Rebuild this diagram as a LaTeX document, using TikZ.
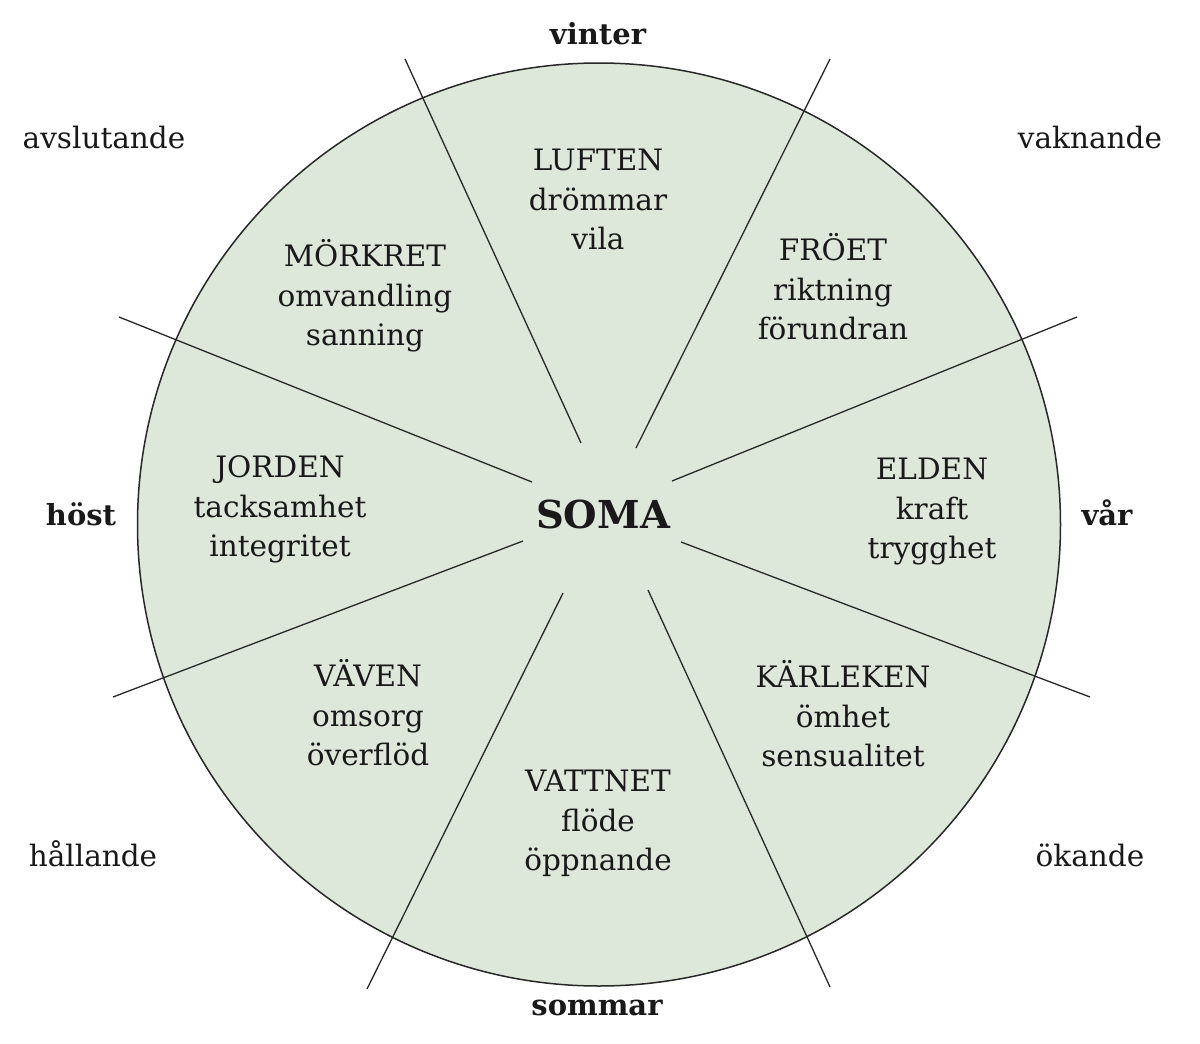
\documentclass[tikz,border=0pt]{standalone}
\usepackage{fontspec}
\setmainfont{DejaVu Serif}
\definecolor{somafill}{RGB}{221,232,218}
\definecolor{inkline}{RGB}{40,40,40}
\definecolor{inktext}{RGB}{25,25,25}
\begin{document}
\begin{tikzpicture}[x=1pt,y=-1pt,
  ray/.style={draw=inkline,line width=1.3pt},
  lbl/.style={inner sep=0pt,text=inktext,align=center,font=\fontsize{29.5}{39.5}\selectfont},
  season/.style={inner sep=0pt,text=inktext,align=center,font=\fontsize{29}{39.5}\selectfont\bfseries},
  core/.style={inner sep=0pt,text=inktext,font=\fontsize{38.5}{46}\selectfont\bfseries}]
\useasboundingbox (0,0) rectangle (1200,1044);
\fill[white] (0,0) rectangle (1200,1044);
% circle
\node[circle,draw=inkline,line width=1.5pt,fill=somafill,minimum size=923pt,inner sep=0pt] (wheel) at (599,524.5) {};
% ray coordinates
\coordinate (a1) at (405,59);   \coordinate (b1) at (581,443);
\coordinate (a2) at (830,59);   \coordinate (b2) at (636,448);
\coordinate (a3) at (1077,317); \coordinate (b3) at (672,481);
\coordinate (a4) at (1090,697); \coordinate (b4) at (681,542);
\coordinate (a5) at (830,987);  \coordinate (b5) at (648,590);
\coordinate (a6) at (367,989);  \coordinate (b6) at (563,593);
\coordinate (a7) at (113,697);  \coordinate (b7) at (523,541);
\coordinate (a8) at (119,317);  \coordinate (b8) at (532,482);
\foreach \i in {1,...,8} { \draw[ray] (a\i) -- (b\i); }
% centre
\node[core] (soma) at (603,528) [anchor=base] {SOMA};
% seasons
\node[season] (vinter) at (598,45) [anchor=base] {vinter};
\node[season] (sommar) at (597,1015) [anchor=base] {sommar};
\node[season] (host) at (81,525) [anchor=base] {höst};
\node[season] (var) at (1107,525) [anchor=base] {vår};
% transitions
\node[lbl] (avsl) at (104,148) [anchor=base] {avslutande};
\node[lbl] (vakn) at (1090,148) [anchor=base] {vaknande};
\node[lbl] (hall) at (93,866) [anchor=base] {hållande};
\node[lbl] (okan) at (1090,866) [anchor=base] {ökande};
% sectors (node centre = middle baseline - 7.9)
\node[lbl] (luften) at (598,202.1) {\strut LUFTEN\\\strut drömmar\\\strut vila};
\node[lbl] (morkret) at (365,298.1) {\strut MÖRKRET\\\strut omvandling\\\strut sanning};
\node[lbl] (froet) at (833,292.1) {\strut FRÖET\\\strut riktning\\\strut förundran};
\node[lbl] (jorden) at (280,509.1) {\strut JORDEN\\\strut tacksamhet\\\strut integritet};
\node[lbl] (elden) at (932,511.1) {\strut ELDEN\\\strut kraft\\\strut trygghet};
\node[lbl] (vaven) at (368,718.1) {\strut VÄVEN\\\strut omsorg\\\strut överflöd};
\node[lbl] (karleken) at (843,719.1) {\strut KÄRLEKEN\\\strut ömhet\\\strut sensualitet};
\node[lbl] (vattnet) at (598,823.1) {\strut VATTNET\\\strut flöde\\\strut öppnande};
\end{tikzpicture}
\end{document}
